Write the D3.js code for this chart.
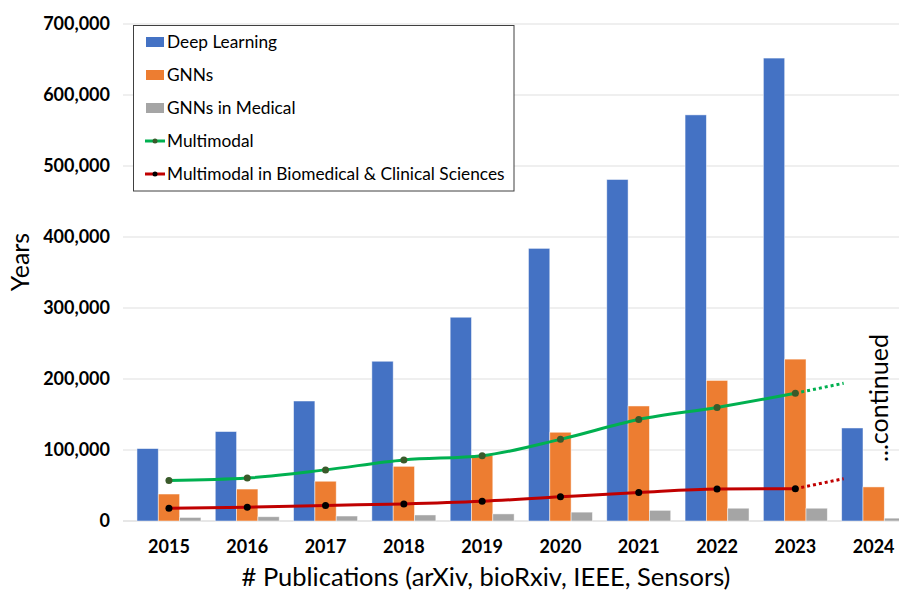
<!DOCTYPE html>
<html><head><meta charset="utf-8">
<script src="https://cdn.jsdelivr.net/npm/d3@7"></script>
<style>body{margin:0;background:#fff}svg{display:block;font-family:Lato,"Open Sans",sans-serif}</style>
</head><body><svg id="c" width="899" height="590"></svg>
<script>
const years = ["2015","2016","2017","2018","2019","2020","2021","2022","2023","2024"];
const deepLearning = [102000,126000,169000,225000,287000,384000,481000,572000,652000,131000];
const gnns = [38000,45000,56000,77000,92500,125000,162000,198000,228000,48000];
const gnnsMedical = [5000,6000,7000,8500,10000,12500,15000,18000,18000,4000];
const lineYears = ["2015","2016","2017","2018","2019","2020","2021","2022","2023"];
const multimodal = [57000,60500,72000,86000,92000,115000,143000,160000,180000];
const multimodalBio = [18000,19500,22000,24000,27700,34000,40000,45000,45500];
const multimodalCont = [180000,194000];
const multimodalBioCont = [45500,59600];
const yTicks = [0,100000,200000,300000,400000,500000,600000,700000];

const svg = d3.select("#c");
const x = d3.scaleBand().domain(years).range([129.8,912.8]).paddingInner(0.183).paddingOuter(0.0915);
const sub = d3.scaleBand().domain(["dl","gnn","med"]).range([0,x.bandwidth()]);
const y = d3.scaleLinear().domain([0,700000]).range([521,24]);

// gridlines
svg.append("g").selectAll("line").data(yTicks).join("line")
  .attr("x1",123).attr("x2",899).attr("y1",d=>y(d)).attr("y2",d=>y(d))
  .attr("stroke",d=>d===0?"#d0d0d0":"#e0e0e0").attr("stroke-width",1.2);

// y labels
svg.append("g").selectAll("text").data(yTicks).join("text")
  .attr("x",110).attr("y",d=>y(d)+6).attr("text-anchor","end")
  .attr("font-weight","bold").attr("font-size",18).attr("fill","#000")
  .text(d=>d3.format(",")(d));

// x labels
svg.append("g").selectAll("text").data(years).join("text")
  .attr("x",d=>x(d)+x.bandwidth()/2).attr("y",553).attr("text-anchor","middle")
  .attr("font-weight","bold").attr("font-size",18).text(d=>d);

const series = [["dl",deepLearning,"#4472C4"],["gnn",gnns,"#ED7D31"],["med",gnnsMedical,"#A5A5A5"]];
series.forEach(([k,vals,col])=>{
  svg.append("g").selectAll("rect").data(years).join("rect")
    .attr("x",d=>x(d)+sub(k)).attr("width",sub.bandwidth())
    .attr("y",(d,i)=>y(vals[i])).attr("height",(d,i)=>y(0)-y(vals[i]))
    .attr("fill",col).attr("stroke","#fff").attr("stroke-opacity",0.6).attr("stroke-width",0.8);
});

const cx = d=>x(d)+x.bandwidth()/2;
const line = d3.line().x(d=>d[0]).y(d=>d[1]).curve(d3.curveMonotoneX);
function drawLine(vals,cont,col,mcol){
  const pts = lineYears.map((d,i)=>[cx(d),y(vals[i])]);
  const ex = x("2024")+sub("dl")+2;
  svg.append("path").attr("d",d3.line()([[cx("2023"),y(cont[0])],[ex,y(cont[1])]]))
    .attr("fill","none").attr("stroke",col).attr("stroke-width",3).attr("stroke-dasharray","3,3");
  svg.append("path").attr("d",line(pts)).attr("fill","none").attr("stroke",col).attr("stroke-width",3);
  svg.append("g").selectAll("circle").data(pts).join("circle")
    .attr("cx",d=>d[0]).attr("cy",d=>d[1]).attr("r",3.5).attr("fill",mcol);
}
drawLine(multimodal,multimodalCont,"#00B050","#3A5A2A");
drawLine(multimodalBio,multimodalBioCont,"#C00000","#000");

// legend
const lg = svg.append("g");
lg.append("rect").attr("x",133.5).attr("y",25.5).attr("width",380.5).attr("height",165.5)
  .attr("fill","#fff").attr("stroke","#404040").attr("stroke-width",1);
const legendItems = [["Deep Learning","bar","#4472C4"],["GNNs","bar","#ED7D31"],["GNNs in Medical","bar","#A5A5A5"],
  ["Multimodal","line","#00B050","#3A5A2A"],["Multimodal in Biomedical & Clinical Sciences","line","#C00000","#000"]];
legendItems.forEach((it,i)=>{
  const cy = 42+i*33;
  if(it[1]==="bar"){
    lg.append("rect").attr("x",146).attr("y",cy-5).attr("width",18).attr("height",10).attr("fill",it[2]);
  } else {
    lg.append("line").attr("x1",145).attr("x2",165).attr("y1",cy).attr("y2",cy).attr("stroke",it[2]).attr("stroke-width",3);
    lg.append("circle").attr("cx",155).attr("cy",cy).attr("r",2.5).attr("fill",it[3]);
  }
  lg.append("text").attr("x",167).attr("y",cy+6).attr("font-size",17.3).attr("fill","#000").text(it[0]);
});

// axis titles
svg.append("text").attr("transform","translate(29,262) rotate(-90)").attr("text-anchor","middle")
  .attr("font-size",25).text("Years");
svg.append("text").attr("x",486).attr("y",586).attr("text-anchor","middle")
  .attr("font-size",25.5).text("# Publications (arXiv, bioRxiv, IEEE, Sensors)");
svg.append("text").attr("transform","translate(888,398) rotate(-90)").attr("text-anchor","middle")
  .attr("font-size",25).text("...continued");
</script></body></html>
